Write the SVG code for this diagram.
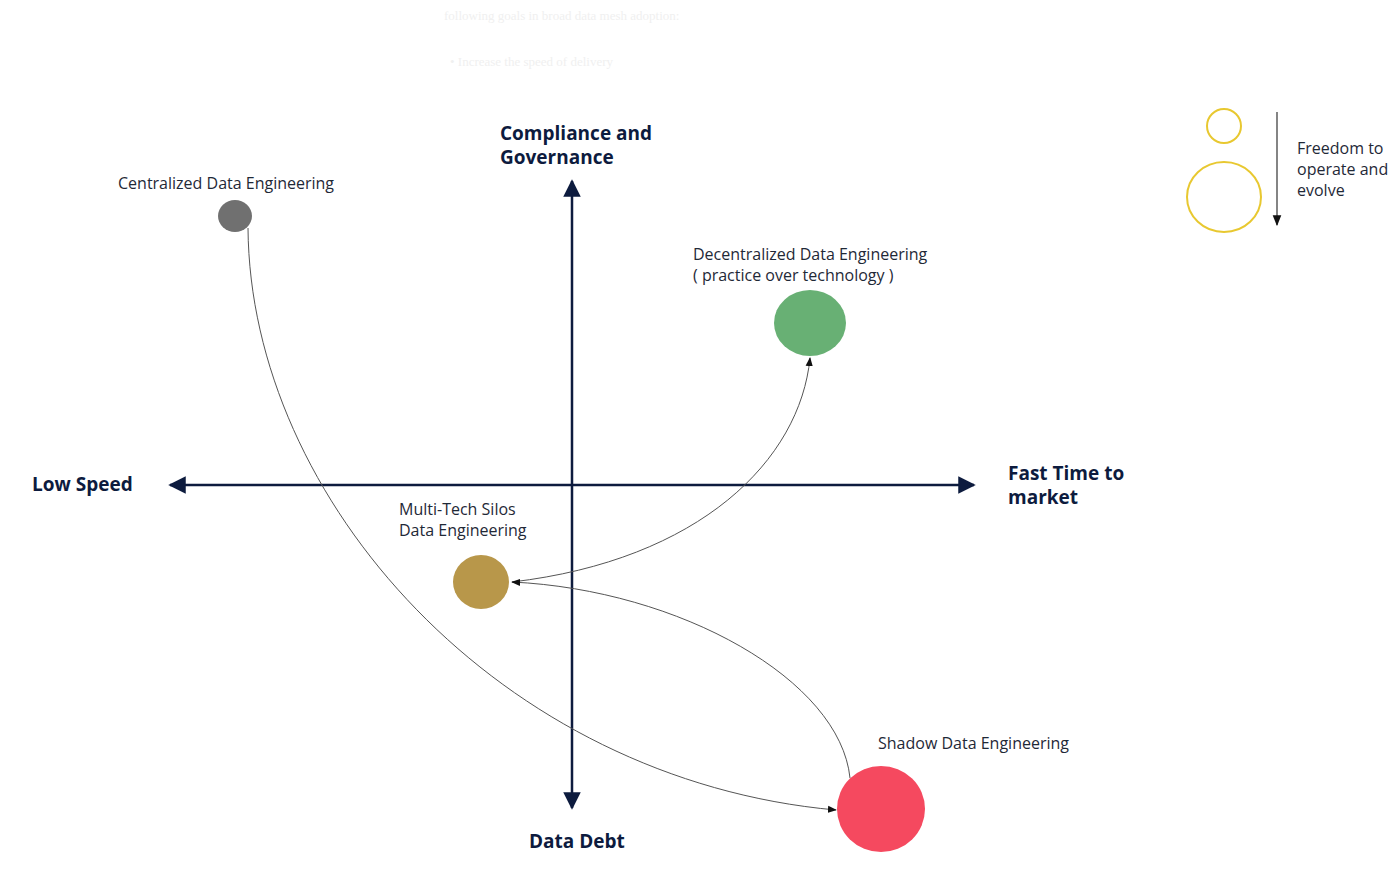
<svg xmlns="http://www.w3.org/2000/svg" width="1400" height="886" viewBox="0 0 1400 886">
<defs>
<marker id="ah" viewBox="0 0 10 10" refX="9" refY="5" markerWidth="7" markerHeight="7" orient="auto-start-reverse"><path d="M0,0 L10,5 L0,10 z" fill="#0d1b3e"/></marker>
<marker id="sm" viewBox="0 0 10 10" refX="9" refY="5" markerWidth="9" markerHeight="9" orient="auto"><path d="M0,1 L10,5 L0,9 z" fill="#111"/></marker>
</defs>
<style>
text{font-family:"Open Sans","Noto Sans",sans-serif;fill:#1f2937}
.ax{font-weight:bold;font-size:19px;fill:#0d1b3e}
.lb{font-size:16px}
.axis{stroke:#0d1b3e;stroke-width:2.5;fill:none}
.con{stroke:#555;stroke-width:1;fill:none}
</style>
<rect width="1400" height="886" fill="#fff"/>
<text x="444" y="20" font-size="13" style="fill:#f0f0f0;font-family:'Liberation Serif',serif">following goals in broad data mesh adoption:</text>
<text x="450" y="66" font-size="13" style="fill:#f0f0f0;font-family:'Liberation Serif',serif">•   Increase the speed of delivery</text>
<g id="axes">
<line class="axis" x1="170" y1="485" x2="974" y2="485" marker-start="url(#ah)" marker-end="url(#ah)"/>
<line class="axis" x1="572" y1="181" x2="572" y2="808" marker-start="url(#ah)" marker-end="url(#ah)"/>
<text class="ax" x="500" y="140">Compliance and</text>
<text class="ax" x="500" y="164">Governance</text>
<text class="ax" x="32" y="491">Low Speed</text>
<text class="ax" x="1008" y="480">Fast Time to</text>
<text class="ax" x="1008" y="504">market</text>
<text class="ax" x="529" y="848">Data Debt</text>
</g>
<g id="connectors">
<path class="con" d="M248,228 C250,500 500,780 836,810" marker-end="url(#sm)"/>
<path class="con" d="M512,582 C700,560 800,460 810,358" marker-end="url(#sm)"/>
<path class="con" d="M850,778 C840,680 680,590 512,582" marker-end="url(#sm)"/>
</g>
<g id="centralized">
<ellipse cx="235" cy="216" rx="17" ry="16" fill="#707070"/>
<text class="lb" x="118" y="189">Centralized Data Engineering</text>
</g>
<g id="decentralized">
<ellipse cx="810" cy="323" rx="36" ry="33" fill="#68b074"/>
<text class="lb" x="693" y="260">Decentralized Data Engineering</text>
<text class="lb" x="693" y="281">( practice over technology )</text>
</g>
<g id="multitech">
<ellipse cx="481" cy="582" rx="28" ry="27" fill="#b8974a"/>
<text class="lb" x="399" y="515">Multi-Tech Silos</text>
<text class="lb" x="399" y="536">Data Engineering</text>
</g>
<g id="shadow">
<ellipse cx="881" cy="809" rx="44" ry="43" fill="#f5495f"/>
<text class="lb" x="878" y="749">Shadow Data Engineering</text>
</g>
<g id="legend">
<circle cx="1224" cy="126" r="17" fill="none" stroke="#e8c830" stroke-width="2"/>
<ellipse cx="1224" cy="197" rx="37" ry="35" fill="none" stroke="#e8c830" stroke-width="2"/>
<line x1="1277" y1="112" x2="1277" y2="225" stroke="#333" stroke-width="1.2" marker-end="url(#sm)"/>
<text class="lb" x="1297" y="154">Freedom to</text>
<text class="lb" x="1297" y="175">operate and</text>
<text class="lb" x="1297" y="196">evolve</text>
</g>
</svg>
